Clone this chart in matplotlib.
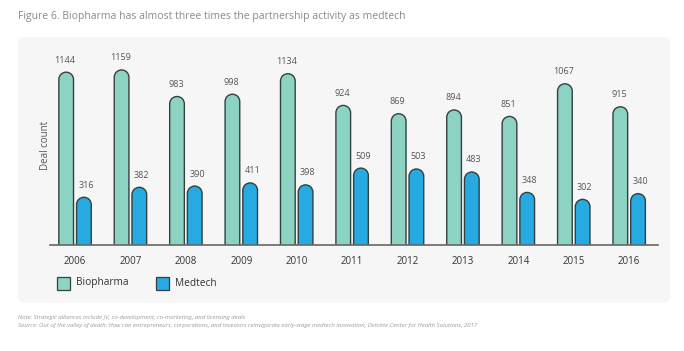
import matplotlib.pyplot as plt
from matplotlib.patches import FancyBboxPatch, Rectangle, PathPatch
from matplotlib.path import Path
import numpy as np

plt.rcParams['font.family'] = ['Open Sans', 'DejaVu Sans']

# data
years = ['2006', '2007', '2008', '2009', '2010', '2011', '2012', '2013', '2014', '2015', '2016']
biopharma = [1144, 1159, 983, 998, 1134, 924, 869, 894, 851, 1067, 915]
medtech = [316, 382, 390, 411, 398, 509, 503, 483, 348, 302, 340]

bio_col = '#8dd3c4'
med_col = '#27a9e1'
edge_col = '#34403f'
txt_col = '#555555'

fig = plt.figure(figsize=(6.84, 3.51), dpi=100)

# light rounded panel behind the chart
panel = FancyBboxPatch((18 / 684, 1 - 303 / 351), (670 - 18) / 684, (303 - 37) / 351,
                       boxstyle='round,pad=0,rounding_size=0.012', transform=fig.transFigure,
                       facecolor='#f6f6f7', edgecolor='none', zorder=-5)
fig.patches.append(panel)

ax = fig.add_axes([50 / 684, 1 - 245 / 351, (658 - 50) / 684, 200 / 351])
ax.set_facecolor('none')
ax.set_zorder(1)
ymax = 1324
ax.set_xlim(-0.452, 10.52)
ax.set_ylim(0, ymax)

x = np.arange(len(years))
w = 0.265
off = 0.16

# data units per pixel, so the caps come out as half circles
px_x = (10.52 + 0.452) / 608
px_y = ymax / 200
rx = w / 2
ry = rx / px_x * px_y


def rounded_bar(xc, h, color):
    arc = Path.arc(0, 180)
    av = arc.vertices.copy()
    av[:, 0] = xc + av[:, 0] * rx
    av[:, 1] = h - ry + av[:, 1] * ry
    verts = [(xc + rx, -200), (xc + rx, h - ry)] + [tuple(v) for v in av[1:]] + \
            [(xc - rx, -200), (xc + rx, -200)]
    codes = [Path.MOVETO, Path.LINETO] + list(arc.codes[1:]) + [Path.LINETO, Path.CLOSEPOLY]
    p = PathPatch(Path(verts, codes), facecolor=color, edgecolor=edge_col,
                  linewidth=1.0, zorder=2)
    ax.add_patch(p)


for i in range(len(years)):
    rounded_bar(x[i] - off, biopharma[i], bio_col)
    rounded_bar(x[i] + off, medtech[i], med_col)
    ax.text(x[i] - off - 0.02, biopharma[i] + 50, str(biopharma[i]), ha='center', va='bottom',
            fontsize=6.5, color=txt_col)
    ax.text(x[i] + off + 0.04, medtech[i] + 50, str(medtech[i]), ha='center', va='bottom',
            fontsize=6.5, color=txt_col)

for s in ['top', 'right', 'left']:
    ax.spines[s].set_visible(False)
ax.spines['bottom'].set_color('#666666')
ax.spines['bottom'].set_linewidth(1.2)
ax.spines['bottom'].set_zorder(3)
ax.set_yticks([])
ax.set_xticks(x)
ax.set_xticklabels(years, fontsize=7, color='#333333')
ax.tick_params(axis='x', length=0, pad=8)
ax.set_ylabel('Deal count', fontsize=7, color=txt_col, labelpad=-1)

# legend drawn by hand to match the square swatches
for xs, col, lab in [(57, bio_col, 'Biopharma'), (156, med_col, 'Medtech')]:
    fig.patches.append(Rectangle((xs / 684, 1 - 290 / 351), 13 / 684, 13 / 351,
                                 transform=fig.transFigure, facecolor=col,
                                 edgecolor=edge_col, linewidth=0.9))
    fig.text((xs + 19) / 684, 1 - 283 / 351, lab, fontsize=7.3, color='#333333', va='center')

fig.text(18 / 684, 1 - 17 / 351,
         'Figure 6. Biopharma has almost three times the partnership activity as medtech',
         fontsize=7.5, color='#8a8a8a', va='center')
fig.text(18 / 684, 1 - 317 / 351,
         'Note: Strategic alliances include JV, co-development, co-marketing, and licensing deals',
         fontsize=4.3, color='#9a9a9a', style='italic', va='center')
fig.text(18 / 684, 1 - 325 / 351,
         'Source: Out of the valley of death: How can entrepreneurs, corporations, and investors '
         'reinvigorate early-stage medtech innovation, Deloitte Center for Health Solutions, 2017',
         fontsize=4.3, color='#9a9a9a', style='italic', va='center')

fig.savefig('out.png', dpi=100)
